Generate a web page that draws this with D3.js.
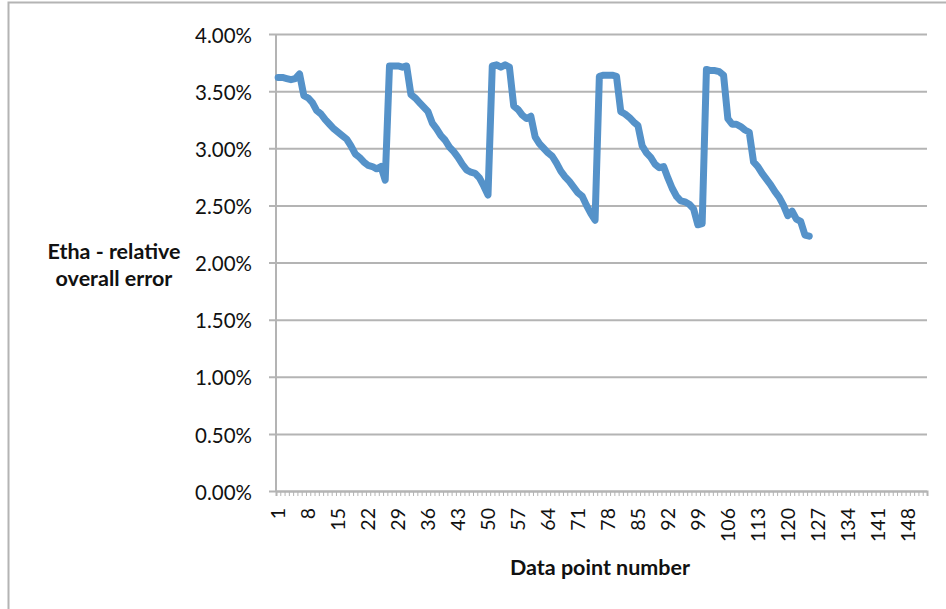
<!DOCTYPE html>
<html>
<head>
<meta charset="utf-8">
<script src="https://cdn.jsdelivr.net/npm/d3@7"></script>
<style>
  body { margin: 0; background: #fff; }
  text { font-family: Lato, "Open Sans", sans-serif; fill: #111; }
</style>
</head>
<body>
<div id="viz_container"></div>
<script>
// category count on the x axis (Excel category axis 1..152)
const categoryCount = 152;
const labelStep = 7;

// relative overall error in percent, data points 1..125
const errorValues = [
  3.62, 3.62, 3.61, 3.60, 3.61, 3.65, 3.46, 3.44, 3.40, 3.33,
  3.30, 3.25, 3.21, 3.17, 3.14, 3.11, 3.08, 3.02, 2.95, 2.92,
  2.88, 2.85, 2.84, 2.82, 2.84, 2.72,
  3.72, 3.72, 3.72, 3.71, 3.72, 3.47, 3.44, 3.40, 3.36, 3.32,
  3.22, 3.17, 3.11, 3.07, 3.01, 2.97, 2.92, 2.86, 2.81, 2.79,
  2.78, 2.74, 2.67, 2.59,
  3.72, 3.73, 3.71, 3.73, 3.71, 3.37, 3.34, 3.29, 3.26, 3.28,
  3.10, 3.04, 3.00, 2.96, 2.93, 2.87, 2.80, 2.75, 2.71, 2.66,
  2.61, 2.58, 2.50, 2.43, 2.37,
  3.63, 3.64, 3.64, 3.64, 3.63, 3.32, 3.30, 3.27, 3.23, 3.20,
  3.02, 2.96, 2.92, 2.86, 2.83, 2.84, 2.74, 2.65, 2.58, 2.54,
  2.53, 2.51, 2.47, 2.33, 2.34,
  3.69, 3.68, 3.68, 3.67, 3.64, 3.26, 3.21, 3.21, 3.19, 3.16,
  3.14, 2.88, 2.84, 2.78, 2.73, 2.68, 2.62, 2.57, 2.50, 2.41,
  2.45, 2.38, 2.36, 2.24, 2.23
];

const yTicks = [0, 0.5, 1, 1.5, 2, 2.5, 3, 3.5, 4];

const categories = d3.range(1, categoryCount + 1);
const data = errorValues.map((v, i) => ({ point: i + 1, value: v }));

var W = 946, H = 609;
var margin = {top: 34, right: 19, bottom: 118, left: 276},
    width = W - margin.left - margin.right,
    height = H - margin.top - margin.bottom;

var svg = d3.select("#viz_container").append("svg")
    .attr("width", W)
    .attr("height", H);

// outer chart frame
svg.append("rect")
    .attr("x", 8.5).attr("y", 2.5)
    .attr("width", W).attr("height", H)
    .style("fill", "none")
    .style("stroke", "#b4b4b4")
    .style("stroke-width", 2);

var g = svg.append("g")
    .attr("transform", "translate(" + margin.left + "," + margin.top + ")");

var x = d3.scaleBand().domain(categories).range([0, width]).padding(0);
var xEdge = d3.scaleLinear().domain([0, categoryCount]).range([0, width]);
var y = d3.scaleLinear().domain([0, 4]).range([height, 0]);

// gridlines + y axis ticks
var yAxis = d3.axisLeft(y)
    .tickValues(yTicks)
    .tickSize(-width - 7)
    .tickFormat(d => d.toFixed(2) + "%");

g.append("g")
    .attr("class", "y axis")
    .attr("transform", "translate(-7,0)")
    .call(yAxis)
    .call(s => s.select(".domain").remove())
    .call(s => s.selectAll(".tick line").style("stroke", "#b4b4b4").style("stroke-width", 2))
    .call(s => s.selectAll(".tick text").style("font-size", "20.5px").attr("x", -17).attr("dy", "0.4em"));

// vertical axis line
g.append("line")
    .attr("x1", 0).attr("x2", 0)
    .attr("y1", y(4)).attr("y2", height)
    .style("stroke", "#b4b4b4").style("stroke-width", 2);

// x axis: small tick marks at category boundaries
g.append("g")
    .attr("transform", "translate(0," + height + ")")
    .call(d3.axisBottom(xEdge).tickValues(d3.range(0, categoryCount + 1)).tickSize(5).tickFormat(""))
    .call(s => s.select(".domain").style("stroke", "#b4b4b4").style("stroke-width", 2))
    .call(s => s.selectAll(".tick line").style("stroke", "#b4b4b4").style("stroke-width", 1));

// x axis labels every 7th category, rotated
var xLabels = g.append("g")
    .attr("transform", "translate(0," + height + ")")
    .call(d3.axisBottom(x).tickValues(categories.filter(d => (d - 1) % labelStep === 0)).tickSize(0))
    .call(s => s.select(".domain").remove());

xLabels.selectAll(".tick text")
    .attr("transform", "translate(0,17) rotate(-90)")
    .attr("x", 0).attr("y", 0)
    .attr("dy", "0.36em")
    .style("text-anchor", "end")
    .style("font-size", "19.5px");

// the line
var line = d3.line()
    .x(d => x(d.point) + x.bandwidth() / 2)
    .y(d => y(d.value));

g.append("path")
    .datum(data)
    .attr("d", line)
    .style("fill", "none")
    .style("stroke", "#5592c9")
    .style("stroke-width", 7)
    .style("stroke-linejoin", "round")
    .style("stroke-linecap", "round");

// axis titles
svg.append("text")
    .attr("x", 600).attr("y", 575)
    .style("text-anchor", "middle")
    .style("font-size", "21.5px")
    .style("font-weight", "bold")
    .text("Data point number");

var yTitle = svg.append("text")
    .attr("x", 114).attr("y", 259)
    .style("text-anchor", "middle")
    .style("font-size", "21.5px")
    .style("font-weight", "bold");
yTitle.append("tspan").attr("x", 114).text("Etha - relative");
yTitle.append("tspan").attr("x", 114).attr("dy", 27).text("overall error");
</script>
</body>
</html>
